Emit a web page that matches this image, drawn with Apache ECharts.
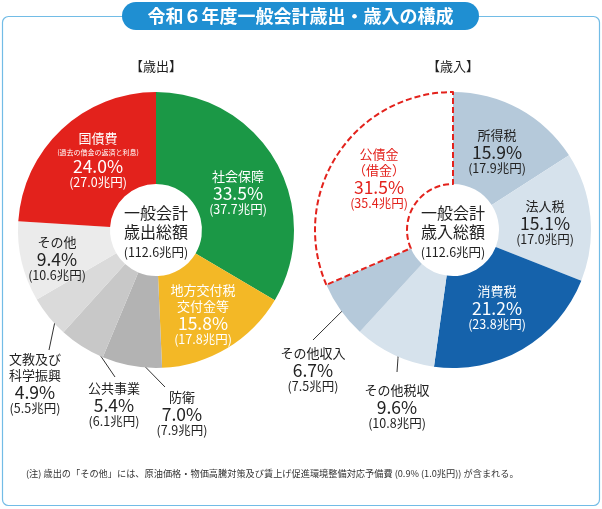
<!DOCTYPE html>
<html><head><meta charset="utf-8">
<script src="https://cdn.jsdelivr.net/npm/echarts@6/dist/echarts.min.js"></script>
<style>html,body{margin:0;padding:0;background:#fff}#c{width:602px;height:509px}</style>
</head><body><div id="c"></div>
<script>
// ---------- data ----------
const outCats = ['社会保障', '地方交付税\n交付金等', '防衛', '公共事業', '文教及び\n科学振興', 'その他', '国債費'];
const outPct = [33.5, 15.8, 7.0, 5.4, 4.9, 9.4, 24.0];
const outAmt = [37.7, 17.8, 7.9, 6.1, 5.5, 10.6, 27.0];
const outNotes = ['', '', '', '', '', '', '(過去の借金の返済と利息)'];
const inCats = ['所得税', '法人税', '消費税', 'その他税収', 'その他収入', '公債金\n（借金）'];
const inPct = [15.9, 15.1, 21.2, 9.6, 6.7, 31.5];
const inAmt = [17.9, 17.0, 23.8, 10.8, 7.5, 35.4];
const inNotes = ['', '', '', '', '', ''];
const totalAmt = 112.6;
const titleText = '令和６年度一般会計歳出・歳入の構成';
const outTitle = '【歳出】';
const inTitle = '【歳入】';
const outCenterText = ['一般会計', '歳出総額'];
const inCenterText = ['一般会計', '歳入総額'];
const noteText = '(注) 歳出の「その他」には、原油価格・物価高騰対策及び賃上げ促進環境整備対応予備費 (0.9% (1.0兆円)) が含まれる。';

// ---------- styles / layout ----------
const FONT = '"Noto Sans CJK JP","Noto Sans",sans-serif';
const outColors = ['#1b9846', '#f3b826', '#b3b3b3', '#c8c8c8', '#dadada', '#ebebeb', '#e3221c'];
const outText = ['#fff', '#fff', '#222', '#222', '#222', '#222', '#fff'];
const inColors = ['#b5c9da', '#d6e2ec', '#1562ab', '#d6e2ec', '#b5c9da', '#ffffff'];
const inText = ['#222', '#222', '#fff', '#222', '#222', '#e3221c'];
const C1 = [156, 230], C2 = [453, 230];
const RADIUS = [46, 138];
const R_LEAD = 127;
const outLabelPos = [[82, -38], [47, 84], [26, 183], [-42, 174], [-121, 153], [-99, 28], [-58, -70]];
const inLabelPos = [[44, -79], [92, -8], [44, 77], [-56, 176], [-140, 139], [-74, -52]];
const outLead = [null, null, [-17, -26], [1, -27], [14, -33], null, null];
const inLead = [null, null, null, [0, -34], [0, -29], null];

const rich = {
  n: { fontFamily: FONT, fontSize: 13, lineHeight: 16 },
  s: { fontFamily: FONT, fontSize: 7, lineHeight: 11 },
  p: { fontFamily: FONT, fontSize: 17.5, lineHeight: 18 },
  a: { fontFamily: FONT, fontSize: 12.5, lineHeight: 14 }
};

function makeFormatter(cats, pct, amt, notes) {
  return function (p) {
    const i = p.dataIndex;
    const lines = cats[i].split('\n').map(t => '{n|' + t + '}');
    if (notes[i]) lines.push('{s|' + notes[i] + '}');
    lines.push('{p|' + pct[i].toFixed(1) + '%}');
    lines.push('{a|(' + amt[i].toFixed(1) + '兆円)}');
    return lines.join('\n');
  };
}

function makeLayout(center, pos, lead, pct) {
  const tot = pct.reduce((a, b) => a + b, 0);
  return function (p) {
    const i = p.dataIndex;
    const x = center[0] + pos[i][0], y = center[1] + pos[i][1];
    const res = { x: x, y: y, align: 'center', verticalAlign: 'middle' };
    if (lead[i]) {
      let cum = 0;
      for (let k = 0; k < i; k++) cum += pct[k];
      const ang = (cum + pct[i] / 2) / tot * 2 * Math.PI;
      const sx = center[0] + R_LEAD * Math.sin(ang), sy = center[1] - R_LEAD * Math.cos(ang);
      const ex = x + lead[i][0], ey = y + lead[i][1];
      res.labelLinePoints = [[sx, sy], [(sx + ex) / 2, (sy + ey) / 2], [ex, ey]];
    }
    return res;
  };
}

function makeData(cats, pct, colors, texts, lead, dashedIdx) {
  return cats.map((n, i) => {
    const item = {
      name: n, value: pct[i],
      itemStyle: { color: colors[i], borderWidth: 0 },
      label: { position: lead[i] ? 'outside' : 'inside', color: texts[i] },
      labelLine: { show: !!lead[i] }
    };
    if (i === dashedIdx) {
      item.itemStyle = { color: colors[i], borderColor: '#e3221c', borderWidth: 2, borderType: [6, 3] };
    }
    return item;
  });
}

function makeSeries(center, cats, pct, amt, notes, colors, texts, pos, lead, dashedIdx) {
  return {
    type: 'pie',
    center: center,
    radius: RADIUS,
    startAngle: 90,
    clockwise: true,
    avoidLabelOverlap: false,
    silent: true,
    emphasis: { disabled: true },
    label: {
      show: true,
      fontFamily: FONT,
      textBorderWidth: 0,
      formatter: makeFormatter(cats, pct, amt, notes),
      rich: rich
    },
    labelLine: { show: false, length: 8, length2: 8, lineStyle: { color: '#333', width: 1 } },
    labelLayout: makeLayout(center, pos, lead, pct),
    data: makeData(cats, pct, colors, texts, lead, dashedIdx)
  };
}

function centerText(c, lines) {
  return {
    type: 'text', x: c[0], y: c[1] + 3, z: 10,
    style: {
      text: '{t|' + lines[0] + '}\n{t|' + lines[1] + '}\n{a|(' + totalAmt.toFixed(1) + '兆円)}',
      align: 'center', verticalAlign: 'middle', fill: '#222',
      rich: {
        t: { fontFamily: FONT, fontSize: 16, lineHeight: 19, fill: '#222' },
        a: { fontFamily: FONT, fontSize: 12.5, lineHeight: 21, fill: '#222' }
      }
    }
  };
}

const chart = echarts.init(document.getElementById('c'), null, { renderer: 'canvas' });
chart.setOption({
  animation: false,
  backgroundColor: '#fff',
  series: [
    makeSeries(C1, outCats, outPct, outAmt, outNotes, outColors, outText, outLabelPos, outLead, -1),
    makeSeries(C2, inCats, inPct, inAmt, inNotes, inColors, inText, inLabelPos, inLead, 5)
  ],
  graphic: [
    { type: 'rect', z: -1, shape: { x: 2.5, y: 16.5, width: 597, height: 489, r: 6 },
      style: { fill: 'none', stroke: '#72bce6', lineWidth: 1.2 } },
    { type: 'rect', z: 5, shape: { x: 122, y: 2, width: 357, height: 28, r: 14 },
      style: { fill: '#1f8fd2' } },
    { type: 'text', z: 6, x: 300.5, y: 16,
      style: { text: titleText, fill: '#fff', font: 'bold 18px ' + FONT, align: 'center', verticalAlign: 'middle' } },
    { type: 'text', x: C1[0], y: 66,
      style: { text: outTitle, fill: '#222', font: '13px ' + FONT, align: 'center', verticalAlign: 'middle' } },
    { type: 'text', x: C2[0], y: 66,
      style: { text: inTitle, fill: '#222', font: '13px ' + FONT, align: 'center', verticalAlign: 'middle' } },
    centerText(C1, outCenterText),
    centerText(C2, inCenterText),
    { type: 'text', x: 26, y: 474,
      style: { text: noteText, fill: '#333', font: '9.2px ' + FONT, align: 'left', verticalAlign: 'middle' } }
  ]
});
</script>
</body></html>
